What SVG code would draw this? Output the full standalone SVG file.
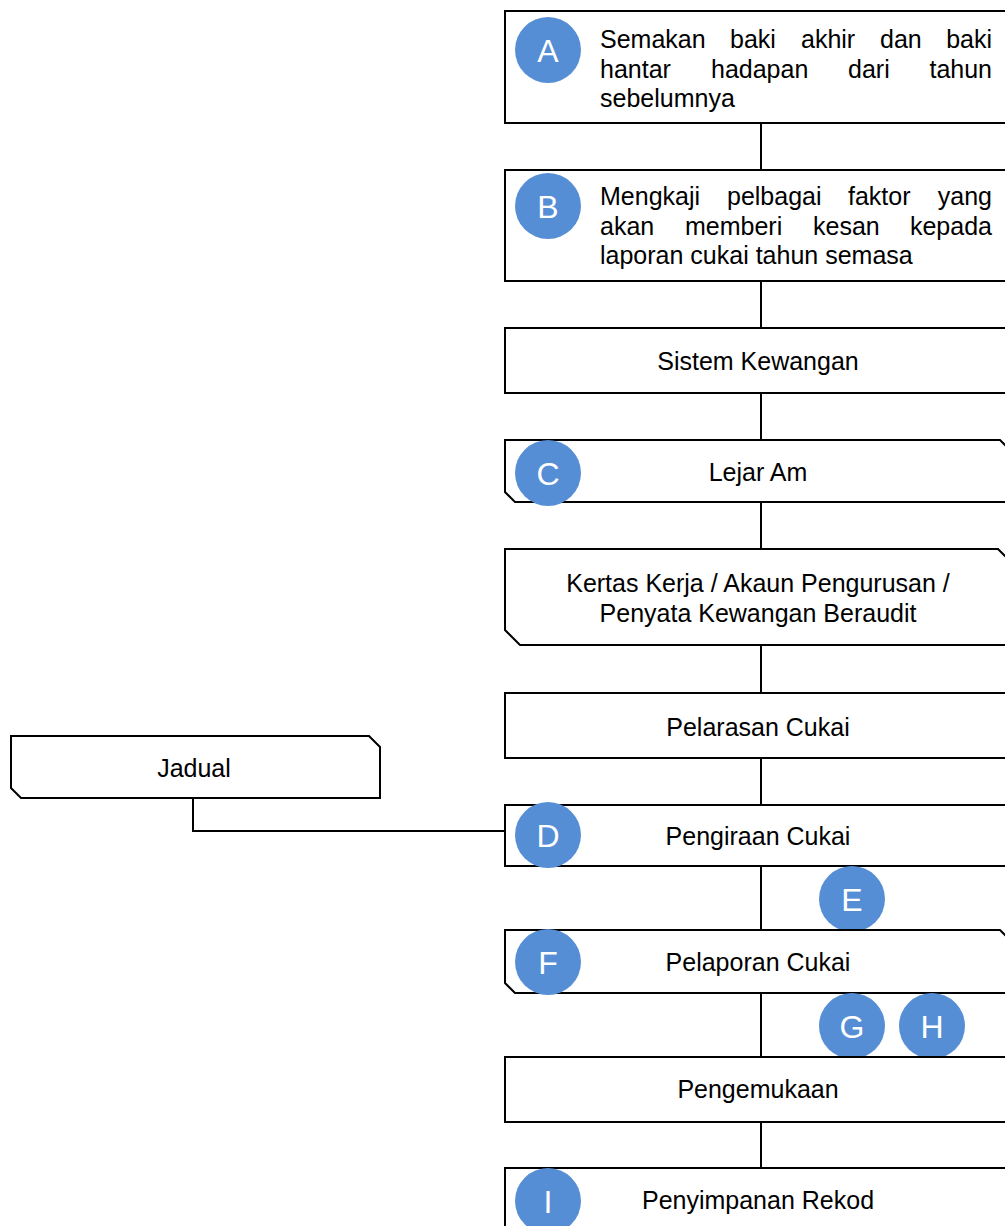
<svg xmlns="http://www.w3.org/2000/svg" width="1005" height="1226" viewBox="0 0 1005 1226">
<style>
.box{fill:#fff;stroke:#000;stroke-width:2}
.ln{fill:none;stroke:#000;stroke-width:2}
.t{font-family:"Liberation Sans",Arial,sans-serif;font-size:25px;fill:#000}
.c{text-anchor:middle}
.b{fill:#558ED5}
.bl{font-family:"Liberation Sans",Arial,sans-serif;font-size:32px;fill:#fff;text-anchor:middle}
</style>
<rect width="1005" height="1226" fill="#fff"/>
<g id="connectors">
<path class="ln" d="M761 123V170M761 281V328M761 393V440M761 502V549M761 645V693M761 758V805M761 866V930M761 993V1057M761 1122V1168"/>
<path class="ln" d="M193 798V831H505"/>
</g>
<g id="nodeA">
<rect class="box" x="505" y="11" width="510" height="112"/>
<text class="t" y="48"><tspan x="600">Semakan</tspan><tspan x="730">baki</tspan><tspan x="801">akhir</tspan><tspan x="880">dan</tspan><tspan x="992" text-anchor="end">baki</tspan></text>
<text class="t" y="78"><tspan x="600">hantar</tspan><tspan x="711">hadapan</tspan><tspan x="848">dari</tspan><tspan x="992" text-anchor="end">tahun</tspan></text>
<text class="t" x="600" y="107">sebelumnya</text>
<circle class="b" cx="548" cy="50" r="33"/><text class="bl" x="548" y="62">A</text>
</g>
<g id="nodeB">
<rect class="box" x="505" y="170" width="510" height="111"/>
<text class="t" y="205"><tspan x="600">Mengkaji</tspan><tspan x="727">pelbagai</tspan><tspan x="848">faktor</tspan><tspan x="992" text-anchor="end">yang</tspan></text>
<text class="t" y="235"><tspan x="600">akan</tspan><tspan x="685">memberi</tspan><tspan x="813">kesan</tspan><tspan x="992" text-anchor="end">kepada</tspan></text>
<text class="t" x="600" y="264">laporan cukai tahun semasa</text>
<circle class="b" cx="548" cy="206" r="33"/><text class="bl" x="548" y="218">B</text>
</g>
<g id="nodeSistem">
<rect class="box" x="505" y="328" width="510" height="65"/>
<text class="t c" x="758" y="370">Sistem Kewangan</text>
</g>
<g id="nodeC">
<path class="box" d="M505 440H1000L1010 450V502H515L505 492Z"/>
<text class="t c" x="758" y="481">Lejar Am</text>
<circle class="b" cx="548" cy="473" r="33"/><text class="bl" x="548" y="485">C</text>
</g>
<g id="nodeKertas">
<path class="box" d="M505 549H998L1013 564V645H520L505 630Z"/>
<text class="t c" x="758" y="592">Kertas Kerja / Akaun Pengurusan /</text>
<text class="t c" x="758" y="622">Penyata Kewangan Beraudit</text>
</g>
<g id="nodePelarasan">
<rect class="box" x="505" y="693" width="510" height="65"/>
<text class="t c" x="758" y="736">Pelarasan Cukai</text>
</g>
<g id="nodeJadual">
<path class="box" d="M11 736H369L380 747V798H21L11 788Z"/>
<text class="t c" x="194" y="777">Jadual</text>
</g>
<g id="nodeD">
<rect class="box" x="505" y="805" width="510" height="61"/>
<text class="t c" x="758" y="845">Pengiraan Cukai</text>
<circle class="b" cx="548" cy="835" r="33"/><text class="bl" x="548" y="847">D</text>
</g>
<g id="nodeE">
<circle class="b" cx="852" cy="899" r="33"/><text class="bl" x="852" y="911">E</text>
</g>
<g id="nodeF">
<path class="box" d="M505 930H1000L1010 940V993H515L505 983Z"/>
<text class="t c" x="758" y="971">Pelaporan Cukai</text>
<circle class="b" cx="548" cy="962" r="33"/><text class="bl" x="548" y="974">F</text>
</g>
<g id="nodeG">
<circle class="b" cx="852" cy="1026" r="33"/><text class="bl" x="852" y="1038">G</text>
</g>
<g id="nodeH">
<circle class="b" cx="932" cy="1026" r="33"/><text class="bl" x="932" y="1038">H</text>
</g>
<g id="nodePengemukaan">
<rect class="box" x="505" y="1057" width="510" height="65"/>
<text class="t c" x="758" y="1098">Pengemukaan</text>
</g>
<g id="nodeI">
<rect class="box" x="505" y="1168" width="510" height="80"/>
<text class="t c" x="758" y="1209">Penyimpanan Rekod</text>
<circle class="b" cx="548" cy="1201" r="33"/><text class="bl" x="548" y="1213">I</text>
</g>
</svg>
